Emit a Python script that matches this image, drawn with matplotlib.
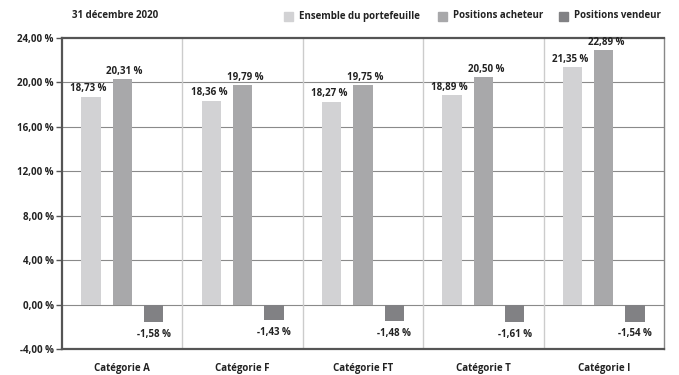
import numpy as np
import matplotlib.pyplot as plt
from matplotlib.patches import Rectangle

categories = ["Catégorie A", "Catégorie F", "Catégorie FT", "Catégorie T", "Catégorie I"]
ensemble = [18.73, 18.36, 18.27, 18.89, 21.35]
acheteur = [20.31, 19.79, 19.75, 20.50, 22.89]
vendeur = [-1.58, -1.43, -1.48, -1.61, -1.54]
series_names = ["Ensemble du portefeuille", "Positions acheteur", "Positions vendeur"]
colors = ["#d2d2d4", "#a8a8aa", "#818184"]
yticks = [-4, 0, 4, 8, 12, 16, 20, 24]

plt.rcParams['font.family'] = ['Open Sans', 'DejaVu Sans']
plt.rcParams['font.weight'] = 'bold'

def fr(v):
    return ("%.2f" % v).replace(".", ",") + " %"

fig = plt.figure(figsize=(6.79, 3.75), dpi=100)
ax = fig.add_axes([62/679, 1-349/375, 602/679, (349-38)/375])

x = np.arange(len(categories))
w = 0.16
off = 0.26
label_shift = [-0.02, 0.02, 0.0]
for i, (vals, c) in enumerate(zip([ensemble, acheteur, vendeur], colors)):
    xs = x + (i - 1) * off
    ax.bar(xs, vals, w, color=c, zorder=3)
    for xi, v in zip(xs, vals):
        if v >= 0:
            ax.text(xi + label_shift[i], v + 0.2, fr(v), ha='center', va='bottom',
                    fontsize=7, color='#222222')
        else:
            ax.text(xi, v - 0.6, fr(v), ha='center', va='top', fontsize=7, color='#222222')

ax.set_xlim(-0.5, len(categories) - 0.5)
ax.set_ylim(-4, 24)
ax.set_yticks(yticks)
ax.set_yticklabels([fr(t) for t in yticks], fontsize=7, color='#222222')
ax.set_xticks(x)
ax.set_xticklabels(categories, fontsize=7, color='#222222')
ax.tick_params(axis='x', length=0, pad=10)
ax.tick_params(axis='y', length=4, width=1, color='#555555', pad=2)

for t in yticks[1:-1]:
    ax.axhline(t, color='#8a8a8a', lw=0.8, zorder=1)
for k in range(1, len(categories)):
    ax.axvline(k - 0.5, color='#cccccc', lw=1, zorder=1)

for s in ['left', 'bottom', 'top']:
    ax.spines[s].set_color('#555555')
    ax.spines[s].set_linewidth(1.6)
ax.spines['right'].set_color('#888888')
ax.spines['right'].set_linewidth(1)

fig.text(72/679, 1-16/375, "31 décembre 2020", fontsize=7, va='center', color='#222222')

# legend: squares + labels in figure pixels
leg_x = [284, 438, 559]
for lx, name, c in zip(leg_x, series_names, colors):
    fig.patches.append(Rectangle((lx/679, 1-21/375), 9/679, 9/375, transform=fig.transFigure,
                                 color=c, figure=fig))
    fig.text((lx + 15)/679, 1-16/375, name, fontsize=7, va='center', color='#222222')

fig.savefig("out.png", dpi=100)
